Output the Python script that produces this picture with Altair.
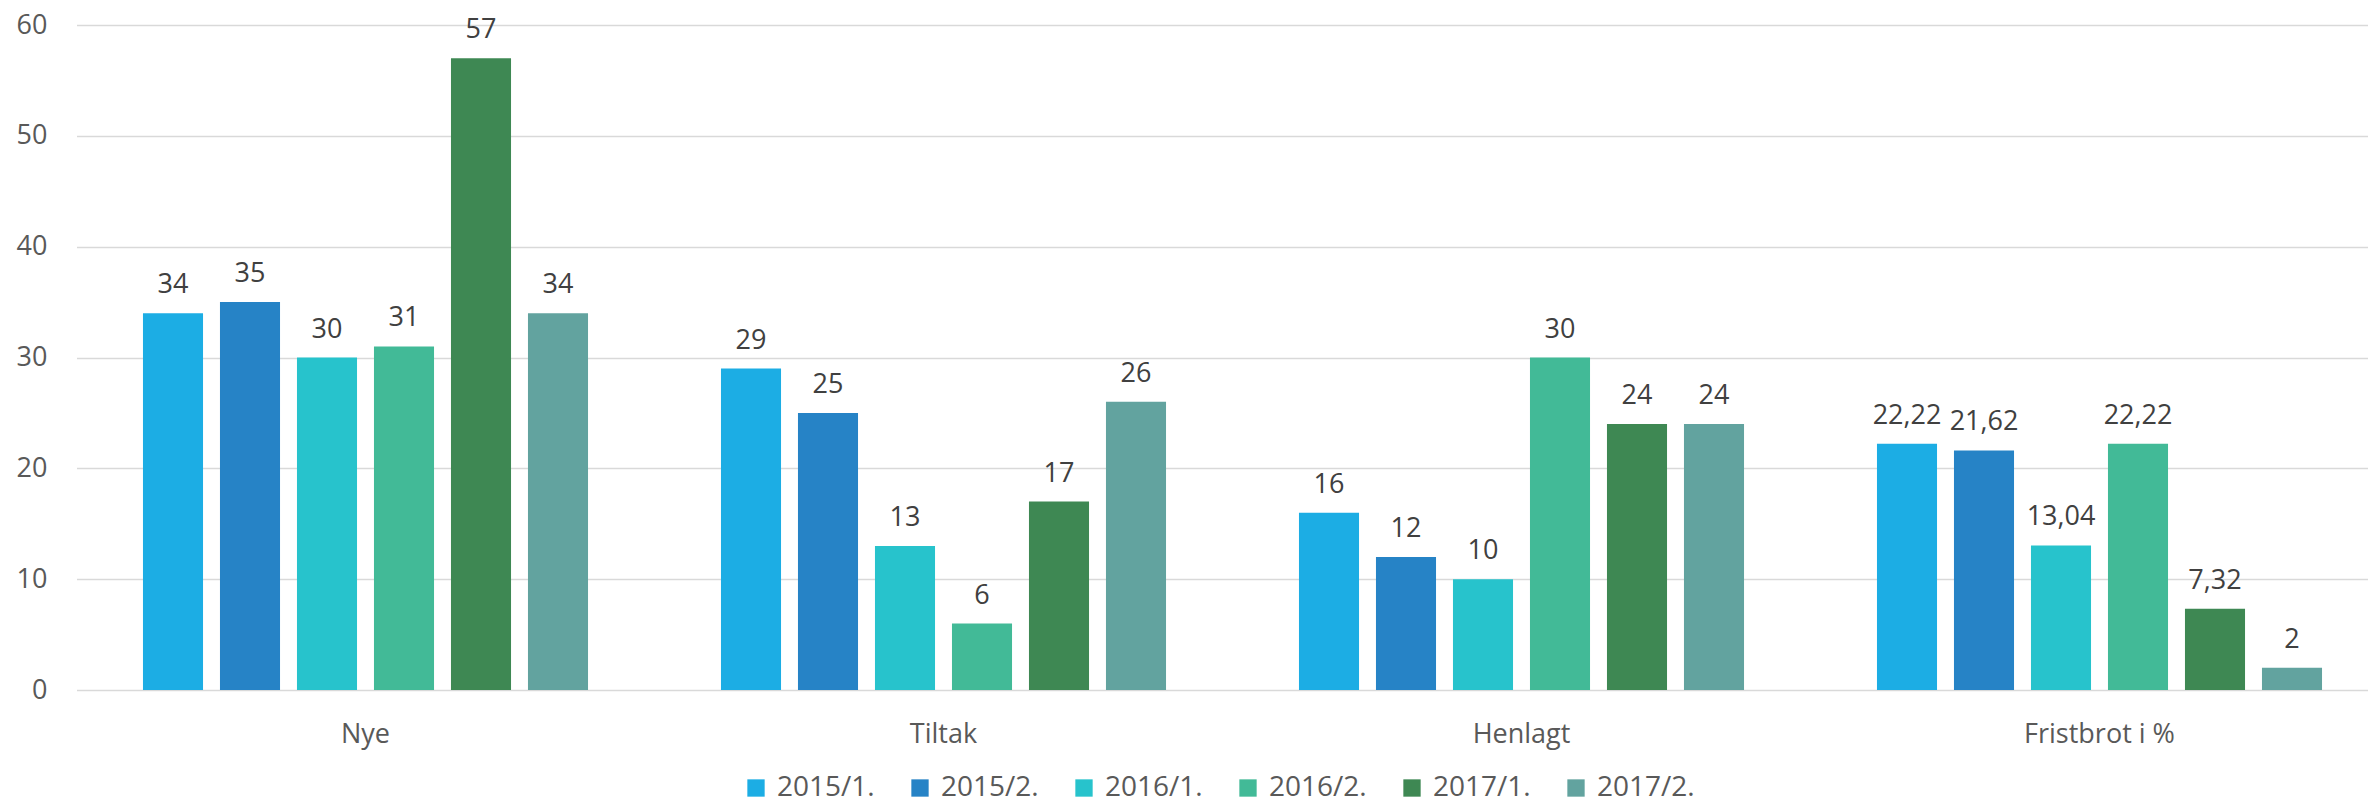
import altair as alt
import pandas as pd

categories = ["Nye", "Tiltak", "Henlagt", "Fristbrot i %"]
periods = ["2015/1.", "2015/2.", "2016/1.", "2016/2.", "2017/1.", "2017/2."]
values_2015_1 = [34, 29, 16, 22.22]
values_2015_2 = [35, 25, 12, 21.62]
values_2016_1 = [30, 13, 10, 13.04]
values_2016_2 = [31, 6, 30, 22.22]
values_2017_1 = [57, 17, 24, 7.32]
values_2017_2 = [34, 26, 24, 2]
colors = ["#1CADE4", "#2683C6", "#27C3CC", "#42BA97", "#3E8853", "#62A39F"]
y_ticks = [0, 10, 20, 30, 40, 50, 60]

series = [values_2015_1, values_2015_2, values_2016_1, values_2016_2, values_2017_1, values_2017_2]
rows = []
for p, vals in zip(periods, series):
    for c, v in zip(categories, vals):
        rows.append({"kategori": c, "periode": p, "verdi": v})
df = pd.DataFrame(rows)

FONT = "Open Sans"

x = alt.X("kategori:N", sort=categories,
          scale=alt.Scale(range=[-29.5, 2282.5], paddingInner=0.23, paddingOuter=0.115),
          axis=alt.Axis(title=None, labelAngle=0, ticks=False, domain=False,
                        labelFontSize=27, labelColor="#595959", labelFont=FONT,
                        labelPadding=31, grid=False))
xo = alt.XOffset("periode:N", sort=periods,
                 scale=alt.Scale(paddingInner=0.22, paddingOuter=0))
y = alt.Y("verdi:Q", scale=alt.Scale(domain=[0, 60], nice=False),
          axis=alt.Axis(title=None, values=y_ticks, ticks=False, domain=False,
                        labelFontSize=27, labelColor="#595959", labelFont=FONT,
                        labelPadding=59, gridColor="#D9D9D9", gridWidth=1.5))
color = alt.Color("periode:N", sort=periods,
                  scale=alt.Scale(domain=periods, range=colors),
                  legend=alt.Legend(title=None, orient="none", direction="horizontal",
                                    legendX=636, legendY=749,
                                    symbolType="square", symbolSize=300,
                                    symbolStrokeWidth=0, labelFontSize=28,
                                    labelFont=FONT, labelColor="#595959",
                                    labelOffset=7, columnPadding=31, padding=0))

bars = alt.Chart(df).mark_bar().encode(x=x, xOffset=xo, y=y, color=color)

labels = alt.Chart(df).transform_calculate(
    lbl="replace(toString(datum.verdi), '.', ',')"
).mark_text(baseline="alphabetic", dy=-20, fontSize=27, font=FONT, color="#404040").encode(
    x=x, xOffset=xo, y=y, text="lbl:N")

chart = alt.layer(bars, labels).properties(
    width=2260, height=665,
    background="white",
    autosize=alt.AutoSizeParams(type="none"),
    padding={"left": 98, "top": 17, "right": 2, "bottom": 111},
).configure_view(stroke=None)

chart.save("out.html", embed_options={"renderer": "svg", "actions": False})
